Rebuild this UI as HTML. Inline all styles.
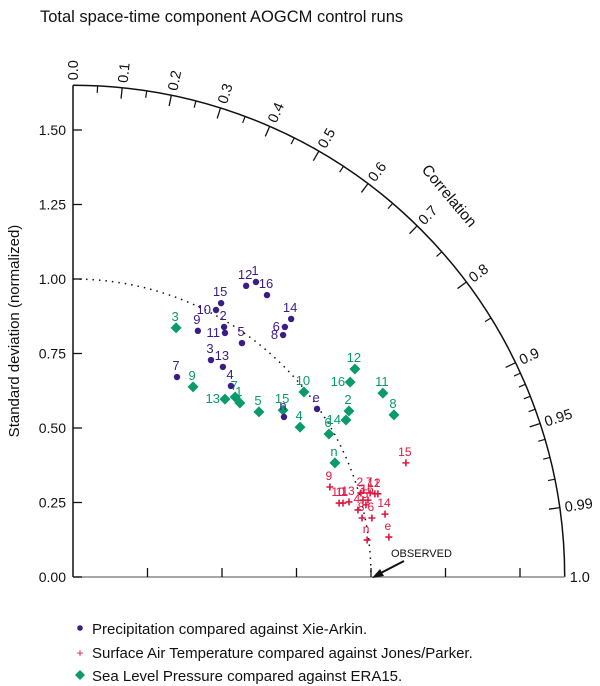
<!DOCTYPE html>
<html><head><meta charset="utf-8"><style>
body{margin:0;background:#fff;}
svg{display:block;font-family:"Liberation Sans",Arial,sans-serif;}
</style></head><body>
<svg id="chart" width="600" height="686" viewBox="0 0 600 686" xmlns="http://www.w3.org/2000/svg">
<text x="40" y="22" font-size="16.5" fill="#111">Total space-time component AOGCM control runs</text>
<text transform="translate(19,331) rotate(-90)" text-anchor="middle" font-size="15" fill="#111">Standard deviation (normalized)</text>
<g id="axes"></g>
<g id="marks"></g>
<text x="391" y="557" font-size="11" fill="#111">OBSERVED</text>
<line x1="404" y1="561" x2="377" y2="575" stroke="#111" stroke-width="2"/>
<polygon points="372,578 380,569 384,576" fill="#111"/>
<g>
<circle cx="80" cy="628" r="2.8" fill="#3b1c86"/>
<text x="92" y="634" font-size="15" fill="#111">Precipitation compared against Xie-Arkin.</text>
<text x="80" y="657" font-size="12" fill="#e0163f" text-anchor="middle">+</text>
<text x="92" y="658" font-size="15" fill="#111">Surface Air Temperature compared against Jones/Parker.</text>
<polygon points="80,670 85,675 80,680 75,675" fill="#0a9a6c"/>
<text x="92" y="681" font-size="15" fill="#111">Sea Level Pressure compared against ERA15.</text>
</g>
</svg>
<script>
// normalized std components: x = std*corr, y = std*sin(acos(corr))
const precipLabels = ["12","1","16","10","15","9","2","11","5","6","14","8","3","13","7","4","n","e"];
const precipX = [0.581,0.614,0.651,0.480,0.497,0.419,0.507,0.510,0.567,0.711,0.732,0.705,0.463,0.503,0.349,0.530,0.708,0.819];
const precipY = [0.977,0.990,0.946,0.896,0.919,0.826,0.839,0.819,0.785,0.839,0.866,0.812,0.728,0.705,0.671,0.641,0.537,0.564];
const slpLabels = ["3","9","13","7","1","5","15","10","12","16","11","8","2","14","6","4","n"];
const slpX = [0.346,0.403,0.510,0.544,0.560,0.624,0.705,0.775,0.946,0.930,1.040,1.077,0.926,0.916,0.859,0.762,0.879];
const slpY = [0.836,0.638,0.597,0.604,0.584,0.554,0.560,0.621,0.698,0.654,0.617,0.544,0.557,0.527,0.480,0.503,0.383];
const satLabels = ["9","10","11","13","2","7","12","1","3","16","5","4","8","6","14","15","e","n"];
const satX = [0.862,0.893,0.906,0.926,0.966,0.997,1.013,1.023,0.973,0.990,0.983,0.956,0.970,1.003,1.047,1.117,1.060,0.987];
const satY = [0.302,0.248,0.248,0.252,0.282,0.282,0.279,0.279,0.258,0.258,0.242,0.225,0.198,0.198,0.211,0.383,0.134,0.124];
const precipLeft = ["11","6","8","10"];
const slpLeft = ["13","16","14"];
const satLeft = [];
const stdTicks = [0,0.25,0.5,0.75,1.0,1.25,1.5];
const stdTickLabels = ["0.00","0.25","0.50","0.75","1.00","1.25","1.50"];
const corrMajor = [0,0.1,0.2,0.3,0.4,0.5,0.6,0.7,0.8,0.9,0.95,0.99,1.0];
const corrMajorLabels = ["0.0","0.1","0.2","0.3","0.4","0.5","0.6","0.7","0.8","0.9","0.95","0.99","1.0"];
const corrMinor = [0.05,0.15,0.25,0.35,0.45,0.55,0.65,0.75,0.85,0.91,0.92,0.93,0.94,0.96,0.97,0.98];
const stdMax = 1.65;

const NS="http://www.w3.org/2000/svg";
const OX=73, OY=577, S=298;
const sx=v=>OX+v*S, sy=v=>OY-v*S;
function mk(tag,attrs,parent){const e=document.createElementNS(NS,tag);for(const k in attrs)e.setAttribute(k,attrs[k]);parent.appendChild(e);return e;}
const axes=document.getElementById('axes'), marks=document.getElementById('marks');
const R=stdMax*S;
let p=mk('path',{d:`M${OX},${OY-R} A${R},${R} 0 0 1 ${OX+R},${OY}`,fill:'none',stroke:'#111','stroke-width':1.5},axes);


let l=mk('line',{x1:OX,y1:OY,x2:OX,y2:OY-R,stroke:'#111','stroke-width':1.5},axes);


l=mk('line',{x1:OX,y1:OY,x2:OX+R,y2:OY,stroke:'#888','stroke-width':1.5},axes);


const r1=S;
p=mk('path',{d:`M${OX},${OY-r1} A${r1},${r1} 0 0 1 ${OX+r1},${OY}`,fill:'none',stroke:'#111','stroke-width':1.5,'stroke-dasharray':'1.5 5'},axes);


stdTicks.forEach((v,i)=>{
  let t=mk('line',{x1:OX,y1:sy(v),x2:OX+9,y2:sy(v),stroke:'#111','stroke-width':1.3},axes);
  
  
  let tx=mk('text',{x:OX-7,y:sy(v)+5,'text-anchor':'end','font-size':14,fill:'#111'},axes);
  tx.textContent=stdTickLabels[i];
  
  
  if(v>0){
    let b=mk('line',{x1:sx(v),y1:OY,x2:sx(v),y2:OY-9,stroke:'#111','stroke-width':1.3},axes);
    
    
  }
});
corrMajor.forEach((c,i)=>{
  const th=Math.acos(c), ct=Math.cos(th), st=Math.sin(th);
  if(c>0&&c<1){
    let t=mk('line',{x1:OX+R*ct,y1:OY-R*st,x2:OX+(R-11)*ct,y2:OY-(R-11)*st,stroke:'#111','stroke-width':1.3},axes);
    
    
  }
  const rl=R+5;
  let tx=mk('text',{transform:`translate(${OX+rl*ct+5*st},${OY-rl*st+5*ct}) rotate(${-th*180/Math.PI})`,'font-size':14.5,fill:'#111'},axes);
  tx.textContent=corrMajorLabels[i];
  
  
});
corrMinor.forEach(c=>{
  const th=Math.acos(c), ct=Math.cos(th), st=Math.sin(th);
  let t=mk('line',{x1:OX+R*ct,y1:OY-R*st,x2:OX+(R-7)*ct,y2:OY-(R-7)*st,stroke:'#111','stroke-width':1.2},axes);
  
  
});
let ctl=mk('text',{transform:'translate(421,170) rotate(50)','font-size':15.5,fill:'#111'},axes);
ctl.textContent='Correlation';



function series(xs,ys,labs,left,color,shape,name){
  xs.forEach((x,i)=>{
    const X=sx(x), Y=sy(ys[i]);
    let m;
    if(shape==='dot') m=mk('circle',{cx:X,cy:Y,r:3.2,fill:color},marks);
    else if(shape==='diamond') m=mk('polygon',{points:`${X},${Y-5.5} ${X+5.5},${Y} ${X},${Y+5.5} ${X-5.5},${Y}`,fill:color},marks);
    else m=mk('path',{d:`M${X-3.5},${Y}H${X+3.5}M${X},${Y-3.5}V${Y+3.5}`,stroke:color,'stroke-width':1.6},marks);
    
    
    const isLeft=left.includes(labs[i]);
    let t=mk('text',isLeft?{x:X-5,y:Y+4,'text-anchor':'end','font-size':13,fill:color}:{x:X-1,y:Y-7,'text-anchor':'middle','font-size':shape==='plus'?12:13,fill:color},marks);
    t.textContent=labs[i];
    
    
  });
}
series(slpX,slpY,slpLabels,slpLeft,'#0a9a6c','diamond','slp');
series(precipX,precipY,precipLabels,precipLeft,'#3b1c86','dot','precip');
series(satX,satY,satLabels,satLeft,'#e0163f','plus','sat');
</script>
</body></html>
